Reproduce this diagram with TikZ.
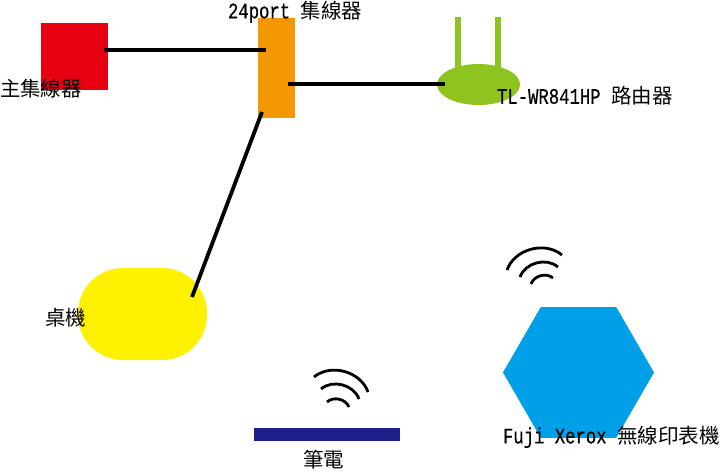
\documentclass[tikz,border=0pt]{standalone}
\usepackage{fontspec}
\setmainfont{Noto Sans CJK TC}
\newfontfamily\halfwidth[Scale=1.08,FakeStretch=0.78,FakeBold=0.4]{Liberation Mono}
\usetikzlibrary{shapes.geometric}
\definecolor{mainred}{HTML}{E60012}
\definecolor{huborange}{HTML}{F39800}
\definecolor{routergreen}{HTML}{8FC31F}
\definecolor{pcyellow}{HTML}{FFF100}
\definecolor{printerblue}{HTML}{00A0E9}
\definecolor{laptopnavy}{HTML}{1D2088}

\begin{document}
\begin{tikzpicture}[
  x=1pt, y=-1pt,
  every node/.style={inner sep=0pt, outer sep=0pt},
  device/.style={shape=rectangle, minimum width=#1},
  antenna/.style={draw=none, fill=routergreen},
  link/.style={draw=black, line width=3.8pt},
  wave/.style={draw=black, line width=2.8pt, bend left=#1},
  label/.style={anchor=west, font=\fontsize{20.5}{22}\selectfont, text=black}
]
\useasboundingbox (0,0) rectangle (720,472);

% antennas go behind the router body
\fill [antenna] (455,17) rectangle (461,70);
\fill [antenna] (495,17) rectangle (501,70);

\node [device=67pt, minimum height=67pt, fill=mainred] (mainhub) at (74.5,56.5) {};
\node [device=37pt, minimum height=100pt, fill=huborange] (hub) at (276.5,68) {};
\node [shape=ellipse, minimum width=83pt, minimum height=41pt, fill=routergreen] (router) at (478.5,84.5) {};
\node [device=129pt, minimum height=92pt, rounded corners=45pt, fill=pcyellow] (desktop) at (142.5,314) {};
\node [device=146pt, minimum height=13pt, fill=laptopnavy] (laptop) at (327,434.5) {};
\node [shape=regular polygon, regular polygon sides=6, minimum size=151pt, fill=printerblue] (printer) at (578.5,372.5) {};

% line ends sit inside the shapes
\coordinate (mainhubport) at (104,50);
\coordinate (hubportw) at (266,50);
\coordinate (hubporte) at (288,84);
\coordinate (routerport) at (445,84);
\coordinate (hubports) at (262,112);
\coordinate (desktopport) at (192,297);

\draw [link] (mainhubport) -- (hubportw);
\draw [link] (hubporte) -- (routerport);
\draw [link] (hubports) -- (desktopport);

% wireless marks
\draw [wave=55] (507,270) to (562,255);
\draw [wave=55] (520,277) to (558,267);
\draw [wave=55] (531,284) to (553,278);
\draw [wave=55] (314,377) to (368,392);
\draw [wave=55] (321,389) to (359,399);
\draw [wave=55] (327,402) to (349,407);

\node [label] (mainhublabel) at (0,89) {主集線器};
\node [label] (hublabel) at (228,12) {{\halfwidth 24port }集線器};
\node [label] (routerlabel) at (497,96) {{\halfwidth TL-WR841HP }路由器};
\node [label] (desktoplabel) at (45,318) {桌機};
\node [label] (laptoplabel) at (303,460) {筆電};
\node [label] (printerlabel) at (503,437) {{\halfwidth Fuji Xerox }無線印表機};
\end{tikzpicture}
\end{document}
